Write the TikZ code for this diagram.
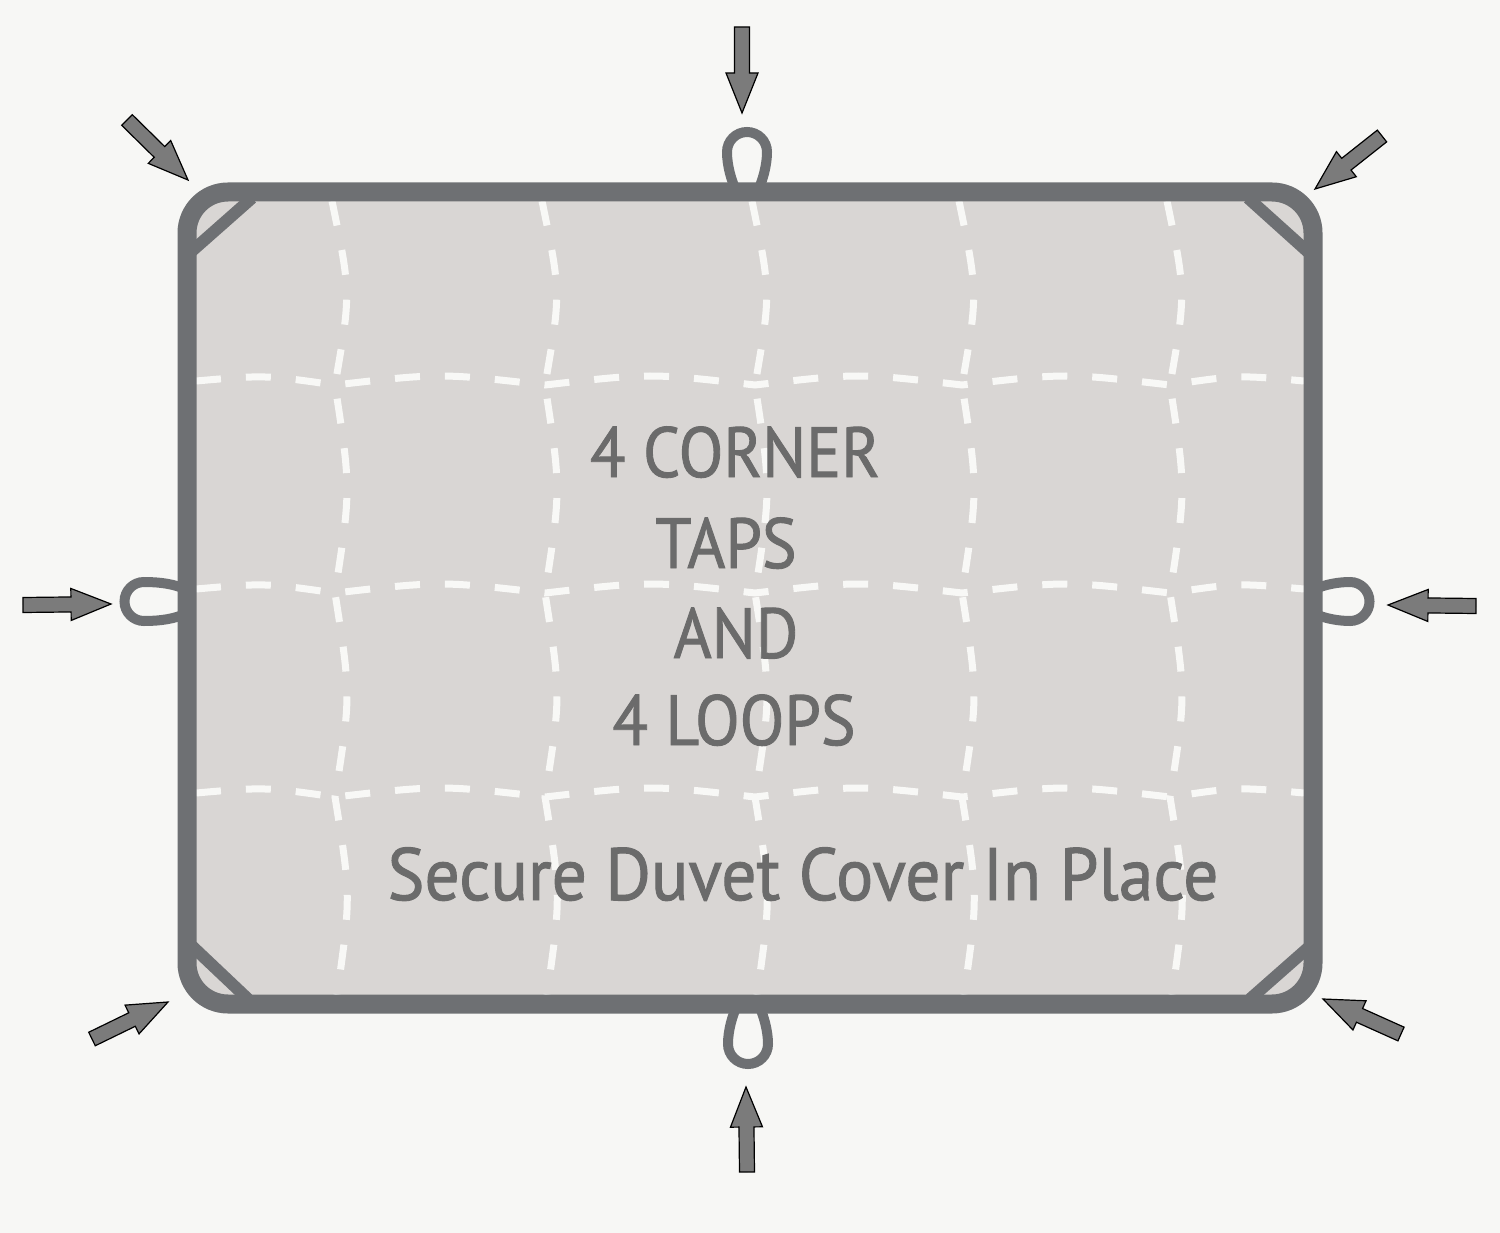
\documentclass[tikz,border=0pt]{standalone}
\usepackage{fontspec}
\setmainfont{PT Sans}
\newfontfamily\labfont{PT Sans}[FakeBold=1.3]
\usetikzlibrary{calc}
\definecolor{bgc}{HTML}{F7F7F5}
\definecolor{fillc}{HTML}{D9D6D4}
\definecolor{framec}{HTML}{6E7073}
\definecolor{textc}{HTML}{6B6B6B}
\definecolor{arrowc}{HTML}{7B7B7B}
\definecolor{stitchc}{HTML}{F8F8F6}
\tikzset{
  framestyle/.style={draw=framec, line width=19pt},
  tabstyle/.style={draw=framec, line width=12pt},
  loopstyle/.style={draw=framec, line width=10pt, line cap=round},
  stitch/.style={draw=stitchc, line width=7pt, dash pattern=on 25pt off 25pt},
  pointer/.style={fill=arrowc, draw=black, line width=1.2pt, line join=miter},
  label/.style={text=textc, inner sep=0pt, anchor=base}
}
\newcommand\fatarrow[2]{%
  \coordinate (hb) at ($(#2)!40pt!(#1)$);
  \path[pointer] ($(#1)!7.5pt!90:(#2)$) -- ($(hb)!7.5pt!90:(#2)$) -- ($(hb)!16pt!90:(#2)$) -- (#2)
     -- ($(hb)!16pt!-90:(#2)$) -- ($(hb)!7.5pt!-90:(#2)$) -- ($(#1)!7.5pt!-90:(#2)$) -- cycle;}
\begin{document}
\begin{tikzpicture}[x=1pt,y=-1pt]
\useasboundingbox (0,0) rectangle (1500,1233);
\fill[bgc] (0,0) rectangle (1500,1233);
% cover
\fill[fillc, rounded corners=41pt] (187,192) rectangle (1313,1004);
% stitching - vertical
\foreach \x in {335,545,755,962,1170}{
  \draw[stitch] (\x-3,201) .. controls (\x+16,293) .. (\x,385) .. controls (\x+16,489) .. (\x,593)
     .. controls (\x+16,695) .. (\x,797) .. controls (\x+16,896) .. (\x+2,995);
}
% stitching - horizontal
\foreach \y in {385,593,797}{
  \draw[stitch] (196,\y-4) .. controls (265,\y-10) .. (335,\y) .. controls (440,\y-12) .. (545,\y)
     .. controls (650,\y-12) .. (755,\y) .. controls (858,\y-12) .. (962,\y)
     .. controls (1066,\y-12) .. (1170,\y) .. controls (1237,\y-10) .. (1304,\y-4);
}
% corner tabs
\coordinate (tla) at (252,198); \coordinate (tlb) at (192,251);
\coordinate (tra) at (1248,198); \coordinate (trb) at (1308,252);
\coordinate (bla) at (192,946); \coordinate (blb) at (248,999);
\coordinate (bra) at (1309,947); \coordinate (brb) at (1250,999);
\draw[tabstyle] (tla) -- (tlb);
\draw[tabstyle] (tra) -- (trb);
\draw[tabstyle] (bla) -- (blb);
\draw[tabstyle] (bra) -- (brb);
% frame
\draw[framestyle, rounded corners=41pt] (187,192) rectangle (1313,1004);
% loops
\draw[loopstyle] (737,193) .. controls (731,180) and (727,165) .. (727,152) arc[start angle=180,end angle=360,radius=20] .. controls (767,165) and (763,180) .. (757,193);
\draw[loopstyle] (738,1003) .. controls (732,1016) and (728,1031) .. (728,1044) arc[start angle=180,end angle=0,radius=20] .. controls (768,1031) and (764,1016) .. (758,1003);
\draw[loopstyle] (187,590) .. controls (175,584) and (160,582) .. (144,582) arc[start angle=270,end angle=90,radius=19.5] .. controls (160,621) and (175,619) .. (187,613);
\draw[loopstyle] (1313,590) .. controls (1325,584) and (1340,582) .. (1350,582) arc[start angle=270,end angle=450,radius=19.5] .. controls (1340,621) and (1325,619) .. (1313,613);
% pointer arrows
\coordinate (ta0) at (742,27);   \coordinate (ta1) at (742,113);
\coordinate (ba0) at (747,1172); \coordinate (ba1) at (746,1087);
\coordinate (la0) at (23,605);   \coordinate (la1) at (111,604);
\coordinate (ra0) at (1476,606); \coordinate (ra1) at (1388,605);
\coordinate (tl0) at (127,120);  \coordinate (tl1) at (188,180);
\coordinate (tr0) at (1382,136); \coordinate (tr1) at (1315,189);
\coordinate (bl0) at (92,1039);  \coordinate (bl1) at (168,1002);
\coordinate (br0) at (1401,1034); \coordinate (br1) at (1323,999);
\fatarrow{ta0}{ta1}
\fatarrow{ba0}{ba1}
\fatarrow{la0}{la1}
\fatarrow{ra0}{ra1}
\fatarrow{tl0}{tl1}
\fatarrow{tr0}{tr1}
\fatarrow{bl0}{bl1}
\fatarrow{br0}{br1}
% texts
\node[label, font=\labfont\fontsize{71}{71}\selectfont] (t1) at (735,477) {\scalebox{0.92}[1]{4 CORNER}};
\node[label, font=\labfont\fontsize{71}{71}\selectfont] (t2) at (726,568) {\scalebox{0.92}[1]{TAPS}};
\node[label, font=\labfont\fontsize{71}{71}\selectfont] (t3) at (736,658) {\scalebox{0.92}[1]{AND}};
\node[label, font=\labfont\fontsize{71}{71}\selectfont] (t4) at (734,745) {\scalebox{0.92}[1]{4 LOOPS}};
\node[label, font=\labfont\fontsize{74}{74}\selectfont] (t5) at (803,900) {\scalebox{0.94}[1]{Secure Duvet Cover In Place}};
\end{tikzpicture}
\end{document}
